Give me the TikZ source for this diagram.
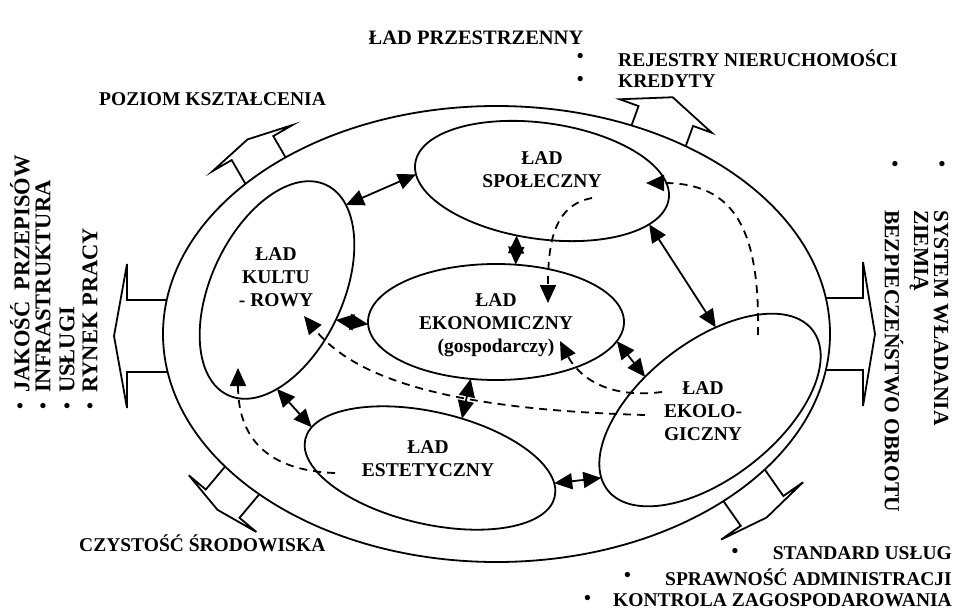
\documentclass[tikz,border=0pt]{standalone}
\usepackage{fontspec}
\setmainfont{Liberation Serif}
\usetikzlibrary{positioning,shapes.geometric,arrows.meta}

\tikzset{
  lbl/.style={font=\bfseries\fontsize{19.5}{23}\selectfont, inner sep=0pt, align=center},
  lside/.style={font=\bfseries\fontsize{22.5}{25}\selectfont, inner sep=0pt},
  rside/.style={font=\bfseries\fontsize{21.5}{25}\selectfont, inner sep=0pt},
  oval/.style={draw, ellipse, line width=1.8pt, inner sep=0pt, outer sep=0pt},
  fat/.style={line width=1.8pt, fill=white, line join=miter},
  link/.style={line width=1.8pt, {Triangle[length=18pt,width=16pt]}-{Triangle[length=18pt,width=16pt]}},
  flow/.style={line width=1.8pt, dash pattern=on 8pt off 6pt, -{Triangle[length=18pt,width=16pt]}},
}

% wide outward arrow: base, angle, half shaft, shaft length, half head, head length
\newcommand{\fatarrow}[6]{%
  \draw[fat, shift={#1}, rotate=#2] (-8,#3) -- (#4,#3) -- (#4,#5) -- ({#4+#6},0) -- (#4,-#5) -- (#4,-#3) -- (-8,-#3);}

\begin{document}
\begin{tikzpicture}[x=1pt, y=-1pt]
\useasboundingbox (0,0) rectangle (961,613);

% Title
\node[lbl, font=\bfseries\fontsize{20.5}{24}\selectfont] (title) at (476,38) {ŁAD PRZESTRZENNY};

% Outward arrows
\fatarrow{(163,336)}{180}{36}{36}{72}{13}
\fatarrow{(830,334)}{0}{36}{33}{72}{12}
\fatarrow{(264,168)}{120}{24}{23}{46}{10}
\fatarrow{(660,132)}{70}{29}{17}{49}{20}
\fatarrow{(240,483)}{-130}{22}{27}{44}{8}
\fatarrow{(746,488)}{-55}{26}{28}{50}{8}

% Outer ring
\node[oval, fill=white, minimum width=667pt, minimum height=456pt] (lad) at (496.5,334) {};

% The five orders
\node[oval, minimum width=256pt, minimum height=116pt, rotate=-8] (spol) at (542,181) {};
\node[oval, minimum width=256pt, minimum height=116pt] (ekon) at (496,322) {};
\node[oval, minimum width=232pt, minimum height=132pt, rotate=65] (kult) at (277,290) {};
\node[oval, minimum width=256pt, minimum height=112pt, rotate=-13] (este) at (430,468) {};
\node[oval, minimum width=260pt, minimum height=136pt, rotate=38] (ekol) at (710,410) {};

\node[lbl] (spoltxt) at (542,170) {ŁAD\\SPOŁECZNY};
\node[lbl] (ekontxt) at (496,325) {ŁAD\\EKONOMICZNY\\(gospodarczy)};
\node[lbl] (kulttxt) at (276,277) {ŁAD\\KULTU\\- ROWY};
\node[lbl] (estetxt) at (428,459) {ŁAD\\ESTETYCZNY};
\node[lbl] (ekoltxt) at (703,411) {ŁAD\\EKOLO-\\GICZNY};

% Mutual links
\draw[link] (kult.-14) -- (spol.185);
\draw[link] (spol.-107) -- (ekon.71);
\draw[link] (spol.-14) -- (ekol.48);
\draw[link] (ekon.-9) -- (ekol.115);
\draw[link] (kult.-92) -- (ekon.181);
\draw[link] (kult.-155) -- (este.174);
\draw[link] (ekon.-114) -- (este.70);
\draw[link] (este.6) -- (ekol.174);

% Influences
\coordinate (d1a) at (758,335);
\coordinate (d1b) at (646,183);
\coordinate (d2a) at (592,198);
\coordinate (d2b) at (548,303);
\coordinate (d3a) at (662,392);
\coordinate (d3b) at (560,341);
\coordinate (d4a) at (645,415);
\coordinate (d4b) at (304,316);
\coordinate (d5a) at (335,473);
\coordinate (d5b) at (238,368);
\draw[flow] (d1a) .. controls (760,230) and (735,183) .. (d1b);
\draw[flow] (d2a) .. controls (555,205) and (548,240) .. (d2b);
\draw[flow] (d3a) .. controls (600,400) and (575,370) .. (d3b);
\draw[flow] (d4a) .. controls (470,410) and (360,385) .. (d4b);
\draw[flow] (d5a) .. controls (250,470) and (238,420) .. (d5b);

% Outside labels
\node[lbl, anchor=west] (pozl) at (99,99) {POZIOM KSZTAŁCENIA};
\node[lbl, anchor=west] (czys) at (79,543) {CZYSTOŚĆ ŚRODOWISKA};

\node[lbl, anchor=west] (rej) at (618,58) {REJESTRY NIERUCHOMOŚCI};
\node[lbl, anchor=west] (kred) at (618,81) {KREDYTY};
\node[lbl] (brej) [left=34pt of rej] {•};
\node[lbl] (bkred) [left=34pt of kred] {•};

\node[lbl, anchor=east] (std) at (952,553) {STANDARD USŁUG};
\node[lbl, anchor=east] (spr) at (952,577) {SPRAWNOŚĆ ADMINISTRACJI};
\node[lbl, anchor=east] (kon) at (952,600) {KONTROLA ZAGOSPODAROWANIA};
\node[lbl] (bstd) [left=34pt of std] {•};
\node[lbl] (bspr) [left=34pt of spr] {•};
\node[lbl] (bkon) [left=22pt of kon] {•};

% Left column
\node[lside, rotate=90, anchor=west] (jak) at (20,393) {JAKOŚĆ\ \ PRZEPISÓW};
\node[lside, rotate=90, anchor=west] (inf) at (43,393) {INFRASTRUKTURA};
\node[lside, rotate=90, anchor=west] (usl) at (67,393) {USŁUGI};
\node[lside, rotate=90, anchor=west] (ryn) at (90,393) {RYNEK PRACY};
\node[lbl] (bjak) at (20,408) {•};
\node[lbl] (binf) at (43,408) {•};
\node[lbl] (busl) at (67,408) {•};
\node[lbl] (bryn) at (90,408) {•};

% Right column
\node[rside, rotate=-90, anchor=west] (sys) at (941,210) {SYSTEM WŁADANIA};
\node[rside, rotate=-90, anchor=west] (zie) at (919,210) {ZIEMIĄ};
\node[rside, rotate=-90, anchor=west] (bez) at (894,210) {BEZPIECZEŃSTWO OBROTU};
\node[lbl] (bsys) at (942,166) {•};
\node[lbl] (bbez) at (895,166) {•};
\end{tikzpicture}
\end{document}
